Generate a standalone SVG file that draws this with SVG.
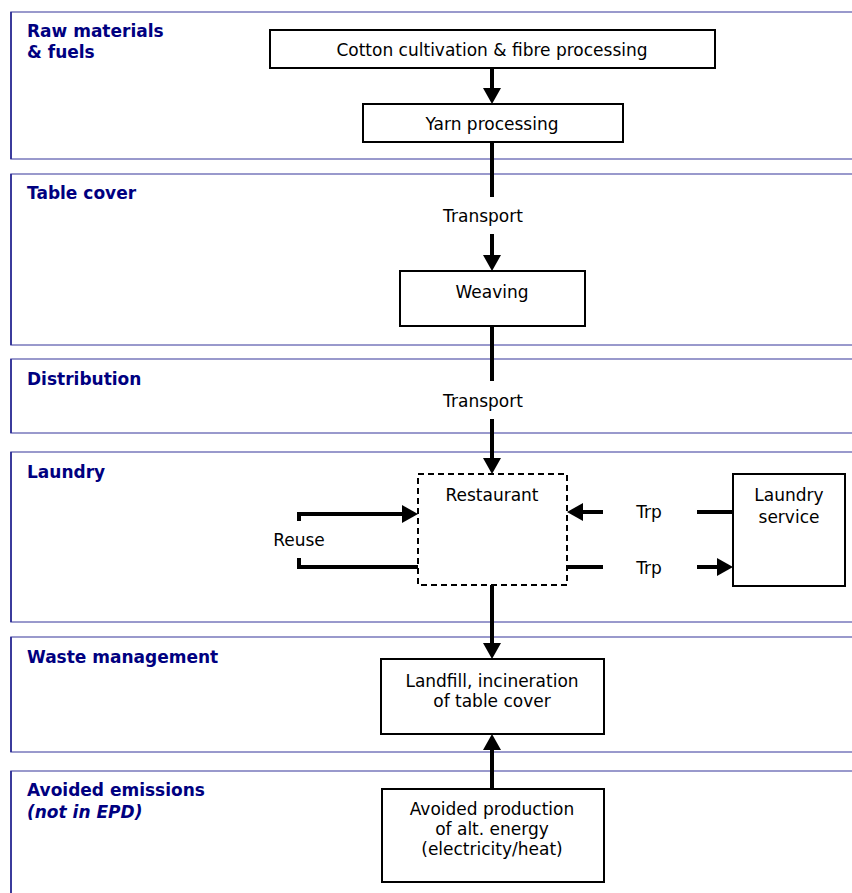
<svg xmlns="http://www.w3.org/2000/svg" width="852" height="893" viewBox="0 0 852 893">
<style>
.pan{fill:#fff;stroke:#7878bc;stroke-width:1.5}
.pl{stroke:#1c1c8c;stroke-width:1.5}
.hd{font-family:"DejaVu Sans",Verdana,sans-serif;font-weight:bold;font-size:17px;fill:#000080}
.box{fill:#fff;stroke:#000;stroke-width:2}
.dash{fill:#fff;stroke:#000;stroke-width:2;stroke-dasharray:6,4}
.t{font-family:"DejaVu Sans",Verdana,sans-serif;font-size:17px;fill:#000;text-anchor:middle}
.c{stroke:#000;stroke-width:4;fill:none}
</style>
<defs>
<marker id="ah" markerWidth="4.5" markerHeight="4.5" refX="0.5" refY="2.25" orient="auto" markerUnits="strokeWidth">
<path d="M0,0 L4,2.25 L0,4.5 z" fill="#000"/>
</marker>
</defs>
<rect width="852" height="893" fill="#fff"/>
<g id="panels">
<g id="p1"><rect class="pan" x="11" y="12" width="860" height="147"/><line class="pl" x1="11" y1="12" x2="11" y2="159"/><text class="hd" x="27" y="37">Raw materials</text><text class="hd" x="27" y="58">&amp; fuels</text></g>
<g id="p2"><rect class="pan" x="11" y="174" width="860" height="171"/><line class="pl" x1="11" y1="174" x2="11" y2="345"/><text class="hd" x="27" y="199">Table cover</text></g>
<g id="p3"><rect class="pan" x="11" y="359" width="860" height="74"/><line class="pl" x1="11" y1="359" x2="11" y2="433"/><text class="hd" x="27" y="385">Distribution</text></g>
<g id="p4"><rect class="pan" x="11" y="452" width="860" height="170"/><line class="pl" x1="11" y1="452" x2="11" y2="622"/><text class="hd" x="27" y="478">Laundry</text></g>
<g id="p5"><rect class="pan" x="11" y="637" width="860" height="115"/><line class="pl" x1="11" y1="637" x2="11" y2="752"/><text class="hd" x="27" y="663">Waste management</text></g>
<g id="p6"><rect class="pan" x="11" y="771" width="860" height="140"/><line class="pl" x1="11" y1="771" x2="11" y2="893"/><text class="hd" x="27" y="796">Avoided emissions</text><text class="hd" x="27" y="818" font-style="italic">(not in EPD)</text></g>
</g>
<g id="connectors">
<line class="c" x1="492" y1="68" x2="492" y2="90" marker-end="url(#ah)"/>
<line class="c" x1="492" y1="142" x2="492" y2="197"/>
<line class="c" x1="492" y1="234" x2="492" y2="257" marker-end="url(#ah)"/>
<text class="t" x="483" y="222">Transport</text>
<line class="c" x1="492" y1="326" x2="492" y2="381"/>
<line class="c" x1="492" y1="419" x2="492" y2="460" marker-end="url(#ah)"/>
<text class="t" x="483" y="407">Transport</text>
<polyline class="c" points="299,521 299,514 404,514" marker-end="url(#ah)"/>
<polyline class="c" points="299,558 299,567 418,567"/>
<text class="t" x="299" y="546">Reuse</text>
<line class="c" x1="733" y1="512" x2="697" y2="512"/>
<line class="c" x1="603" y1="512" x2="581" y2="512" marker-end="url(#ah)"/>
<text class="t" x="649" y="518">Trp</text>
<line class="c" x1="567" y1="567" x2="603" y2="567"/>
<line class="c" x1="697" y1="567" x2="719" y2="567" marker-end="url(#ah)"/>
<text class="t" x="649" y="574">Trp</text>
<line class="c" x1="492" y1="585" x2="492" y2="645" marker-end="url(#ah)"/>
<line class="c" x1="492" y1="789" x2="492" y2="748" marker-end="url(#ah)"/>
</g>
<g id="n_cotton"><rect class="box" x="270" y="30" width="445" height="38"/><text class="t" x="492" y="56">Cotton cultivation &amp; fibre processing</text></g>
<g id="n_yarn"><rect class="box" x="363" y="104" width="260" height="38"/><text class="t" x="492" y="130">Yarn processing</text></g>
<g id="n_weaving"><rect class="box" x="400" y="271" width="185" height="55"/><text class="t" x="492" y="298">Weaving</text></g>
<g id="n_restaurant"><rect class="dash" x="418" y="474" width="149" height="111"/><text class="t" x="492" y="501">Restaurant</text></g>
<g id="n_laundry"><rect class="box" x="733" y="474" width="112" height="112"/><text class="t" x="789" y="501">Laundry</text><text class="t" x="789" y="523">service</text></g>
<g id="n_landfill"><rect class="box" x="381" y="659" width="223" height="75"/><text class="t" x="492" y="687">Landfill, incineration</text><text class="t" x="492" y="707">of table cover</text></g>
<g id="n_avoided"><rect class="box" x="382" y="789" width="222" height="93"/><text class="t" x="492" y="815">Avoided production</text><text class="t" x="492" y="835">of alt. energy</text><text class="t" x="492" y="855">(electricity/heat)</text></g>
</svg>
